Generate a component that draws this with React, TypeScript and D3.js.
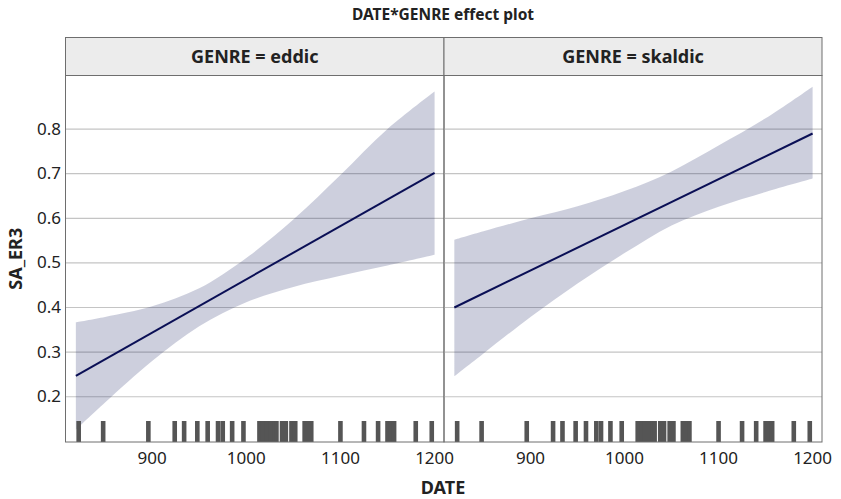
import React from "react";
import * as d3 from "d3";

const panels = ["eddic", "skaldic"];
const bandDates = [819, 850, 900, 950, 1000, 1050, 1100, 1150, 1200];
const eddicUpper = [0.367, 0.379, 0.403, 0.443, 0.511, 0.597, 0.697, 0.8, 0.884];
const eddicLower = [0.126, 0.187, 0.28, 0.358, 0.412, 0.446, 0.471, 0.494, 0.518];
const skaldicUpper = [0.552, 0.571, 0.6, 0.627, 0.661, 0.705, 0.763, 0.824, 0.895];
const skaldicLower = [0.246, 0.297, 0.379, 0.454, 0.522, 0.584, 0.626, 0.659, 0.689];
const lineDates = [819, 1200];
const eddicFit = [0.247, 0.702];
const skaldicFit = [0.4, 0.79];
const rugDates = [
  822, 848, 896, 924, 934, 948, 959, 970, 975, 985, 997, 1014, 1018, 1022, 1026,
  1030, 1032, 1038, 1042, 1048, 1052, 1062, 1066, 1069, 1100, 1125, 1140, 1150,
  1154, 1157, 1180, 1197,
];
const yTicks = [0.2, 0.3, 0.4, 0.5, 0.6, 0.7, 0.8];
const xTicks = [900, 1000, 1100, 1200];

const W = 841;
const H = 499;
const top = 75.5;
const bottom = 442;
const stripTop = 37.5;
const panelX = [
  [65.5, 444],
  [444, 822],
];
const FONT = "'Noto Sans', 'Open Sans', sans-serif";

export default function App() {
  const y = d3.scaleLinear().domain([0.0986, 0.92]).range([bottom, top]);
  const bands = [
    { up: eddicUpper, lo: eddicLower, fit: eddicFit },
    { up: skaldicUpper, lo: skaldicLower, fit: skaldicFit },
  ];
  return (
    <svg
      width={W}
      height={H}
      style={{ position: "absolute", left: 0, top: 0, background: "#fff" }}
      fontFamily={FONT}
    >
      <text x={443} y={20} textAnchor="middle" fontWeight="bold" fontSize={15.5} fill="#222">
        DATE*GENRE effect plot
      </text>
      {panels.map((g, i) => {
        const [x0, x1] = panelX[i];
        const x = d3.scaleLinear().domain([808, 1210]).range([x0, x1]);
        const b = bands[i];
        const area = d3
          .area<number>()
          .x((d) => x(d))
          .y0((_, k) => y(b.lo[k]))
          .y1((_, k) => y(b.up[k]))
          .curve(d3.curveCatmullRom.alpha(0.5));
        const line = d3
          .line<number>()
          .x((d) => x(d))
          .y((_, k) => y(b.fit[k]));
        return (
          <g key={g}>
            <rect x={x0} y={stripTop} width={x1 - x0} height={top - stripTop} fill="#ececec" stroke="#6e6e6e" />
            <text x={(x0 + x1) / 2} y={63} textAnchor="middle" fontWeight="bold" fontSize={18} fill="#222">
              {`GENRE = ${g}`}
            </text>
            {yTicks.map((t) => (
              <line key={t} x1={x0} x2={x1} y1={y(t)} y2={y(t)} stroke="#c4c4c4" strokeWidth={1.2} />
            ))}
            <path d={area(bandDates) || ""} fill="#1a2466" fillOpacity={0.22} />
            <path d={line(lineDates) || ""} fill="none" stroke="#0a0f55" strokeWidth={2} />
            {rugDates.map((d, k) => (
              <rect key={k} x={x(d) - 2.3} y={421} width={4.6} height={bottom - 421} fill="#555" />
            ))}
            <rect x={x0} y={top} width={x1 - x0} height={bottom - top} fill="none" stroke="#6e6e6e" />
            {xTicks.map((t) => (
              <text key={t} x={x(t)} y={464} textAnchor="middle" fontSize={17} fill="#222">
                {t}
              </text>
            ))}
          </g>
        );
      })}
      {yTicks.map((t) => (
        <text key={t} x={61} y={y(t) + 5.5} textAnchor="end" fontSize={17} fill="#222">
          {t.toFixed(1)}
        </text>
      ))}
      <text
        transform={`translate(22,${(top + bottom) / 2}) rotate(-90)`}
        textAnchor="middle"
        fontWeight="bold"
        fontSize={18}
        fill="#222"
      >
        SA_ER3
      </text>
      <text x={443} y={494} textAnchor="middle" fontWeight="bold" fontSize={18} fill="#222">
        DATE
      </text>
    </svg>
  );
}
